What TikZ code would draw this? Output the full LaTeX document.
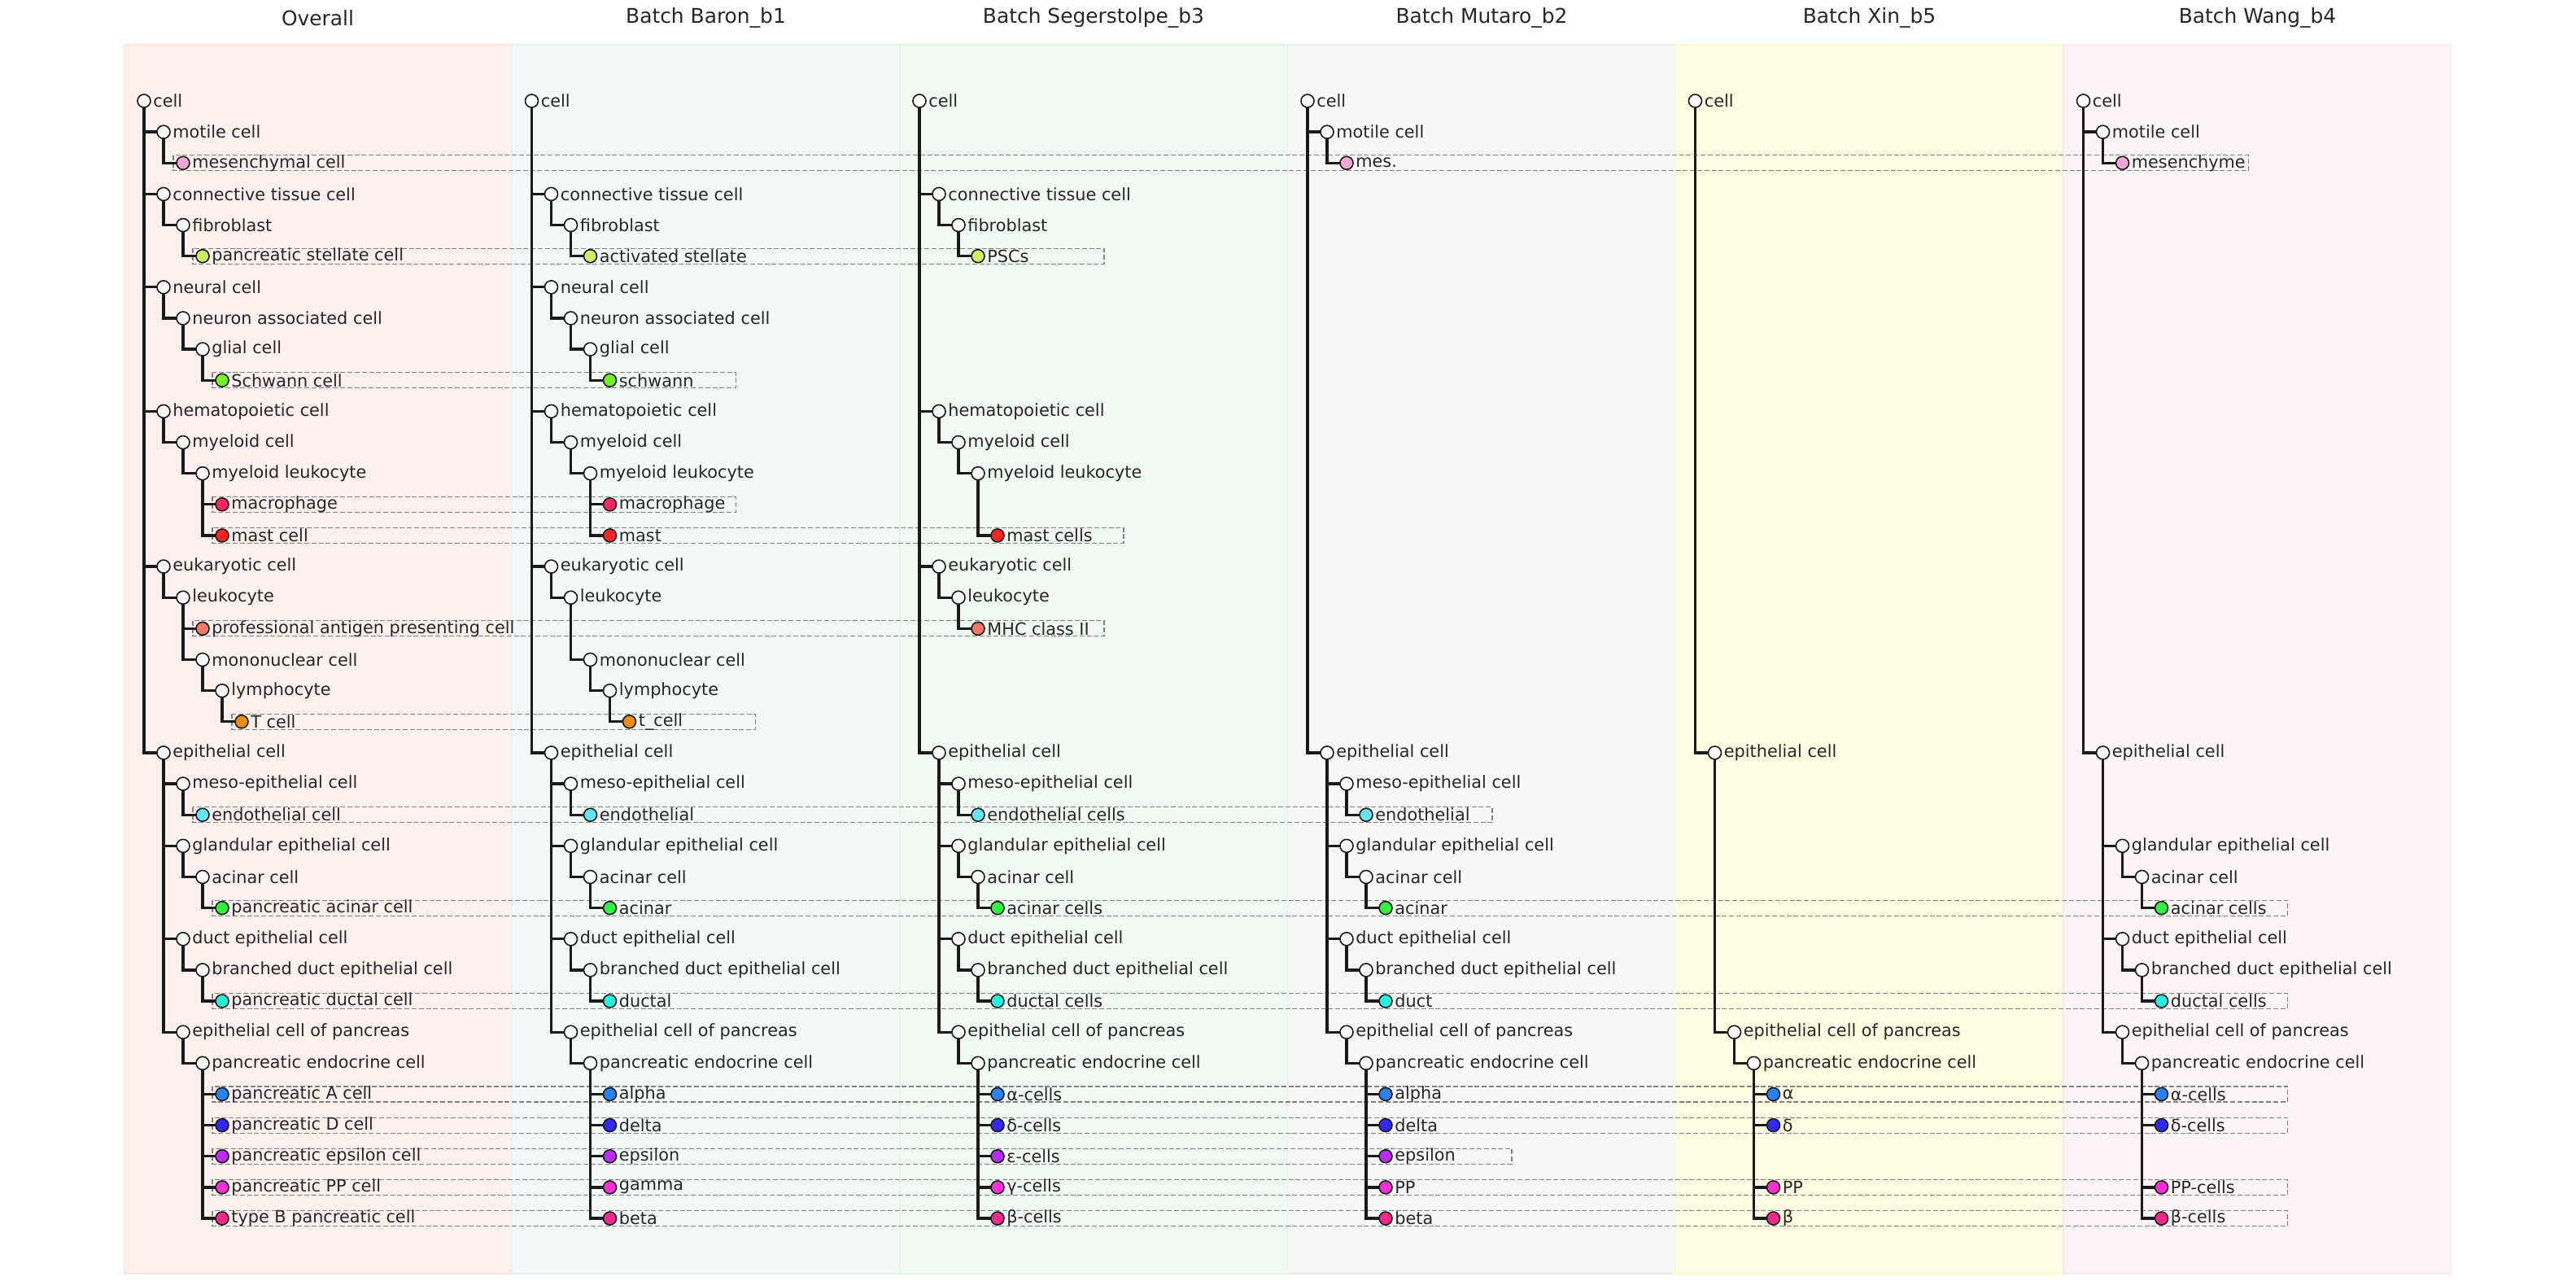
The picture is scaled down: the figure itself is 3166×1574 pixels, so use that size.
\documentclass[tikz,border=0pt]{standalone}
\usepackage{fontspec}
\setmainfont{DejaVu Sans}
\usetikzlibrary{calc}
\pgfdeclarelayer{panels}
\pgfdeclarelayer{boxes}
\pgfdeclarelayer{edges}
\pgfsetlayers{panels,boxes,edges,main}
\definecolor{txtc}{RGB}{38,38,38}
\definecolor{linec}{RGB}{26,26,26}
\definecolor{pOvF}{RGB}{254,240,237}\definecolor{pOvD}{RGB}{251,226,221}
\definecolor{pBaF}{RGB}{244,249,249}\definecolor{pBaD}{RGB}{231,241,241}
\definecolor{pSeF}{RGB}{240,250,241}\definecolor{pSeD}{RGB}{225,245,227}
\definecolor{pMuF}{RGB}{248,248,248}\definecolor{pMuD}{RGB}{236,236,236}
\definecolor{pXiF}{RGB}{254,254,228}\definecolor{pXiD}{RGB}{252,250,208}
\definecolor{pWaF}{RGB}{254,245,246}\definecolor{pWaD}{RGB}{252,233,236}
\definecolor{cPink}{RGB}{242,168,214}
\definecolor{cStel}{RGB}{205,238,100}
\definecolor{cSchw}{RGB}{118,240,40}
\definecolor{cMac}{RGB}{252,40,100}
\definecolor{cMast}{RGB}{252,36,36}
\definecolor{cAPC}{RGB}{236,122,102}
\definecolor{cT}{RGB}{242,140,0}
\definecolor{cEndo}{RGB}{100,230,242}
\definecolor{cAcin}{RGB}{50,240,62}
\definecolor{cDuct}{RGB}{36,240,222}
\definecolor{cA}{RGB}{40,130,242}
\definecolor{cD}{RGB}{50,40,242}
\definecolor{cE}{RGB}{186,44,242}
\definecolor{cPP}{RGB}{250,48,212}
\definecolor{cB}{RGB}{246,40,140}
\begin{document}
\begin{tikzpicture}[x=0.5pt,y=-0.5pt,
  cn/.style={circle, draw=linec, line width=0.8pt, minimum size=8pt, inner sep=0pt},
  lbl/.style={anchor=west, inner sep=0pt, text=txtc, font=\fontsize{10.4}{12}\selectfont},
  edge/.style={draw=linec, line width=1.65pt},
  dbox/.style={draw=black!50, line width=0.55pt, dash pattern=on 3pt off 1.4pt},
  ttl/.style={inner sep=0pt, text=txtc, font=\fontsize{12.45}{15}\selectfont},
  panel/.style={line width=0.8pt}]
\useasboundingbox (0,0) rectangle (3166,1574);
\begin{pgfonlayer}{panels}
\fill[white] (0,0) rectangle (3166,1574);
\draw[panel, fill=pOvF, draw=pOvD] (152.5,55) rectangle (629,1565);
\draw[panel, fill=pBaF, draw=pBaD] (629,55) rectangle (1106,1565);
\draw[panel, fill=pSeF, draw=pSeD] (1106,55) rectangle (1582.5,1565);
\draw[panel, fill=pMuF, draw=pMuD] (1582.5,55) rectangle (2059,1565);
\draw[panel, fill=pXiF, draw=pXiD] (2059,55) rectangle (2536,1565);
\draw[panel, fill=pWaF, draw=pWaD] (2536,55) rectangle (3012.5,1565);
\end{pgfonlayer}
\node[ttl] (t0) at (390.5,22) {Overall};
\node[ttl] (t1) at (867.5,22) {Batch Baron\_b1};
\node[ttl] (t2) at (1344,22) {Batch Segerstolpe\_b3};
\node[ttl] (t3) at (1821,22) {Batch Mutaro\_b2};
\node[ttl] (t4) at (2297.5,22) {Batch Xin\_b5};
\node[ttl] (t5) at (2774.5,22) {Batch Wang\_b4};
% ---------- Overall
\def\rx{177}
\foreach \nm/\lv/\rw/\col/\txt in {
o0/0/0/white/cell,
o1/1/1/white/motile cell,
o2/2/2/cPink/mesenchymal cell,
o3/1/3/white/connective tissue cell,
o4/2/4/white/fibroblast,
o5/3/5/cStel/pancreatic stellate cell,
o6/1/6/white/neural cell,
o7/2/7/white/neuron associated cell,
o8/3/8/white/glial cell,
o9/4/9/cSchw/Schwann cell,
o10/1/10/white/hematopoietic cell,
o11/2/11/white/myeloid cell,
o12/3/12/white/myeloid leukocyte,
o13/4/13/cMac/macrophage,
o14/4/14/cMast/mast cell,
o15/1/15/white/eukaryotic cell,
o16/2/16/white/leukocyte,
o17/3/17/cAPC/professional antigen presenting cell,
o18/3/18/white/mononuclear cell,
o19/4/19/white/lymphocyte,
o20/5/20/cT/T cell,
o21/1/21/white/epithelial cell,
o22/2/22/white/meso-epithelial cell,
o23/3/23/cEndo/endothelial cell,
o24/2/24/white/glandular epithelial cell,
o25/3/25/white/acinar cell,
o26/4/26/cAcin/pancreatic acinar cell,
o27/2/27/white/duct epithelial cell,
o28/3/28/white/branched duct epithelial cell,
o29/4/29/cDuct/pancreatic ductal cell,
o30/2/30/white/epithelial cell of pancreas,
o31/3/31/white/pancreatic endocrine cell,
o32/4/32/cA/pancreatic A cell,
o33/4/33/cD/pancreatic D cell,
o34/4/34/cE/pancreatic epsilon cell,
o35/4/35/cPP/pancreatic PP cell,
o36/4/36/cB/type B pancreatic cell}{
\node[cn, fill=\col] (\nm) at ({\rx+24*\lv},{124+38.14*\rw}) {};
\node[lbl] (\nm-t) at ([xshift=5.5pt]\nm.center) {\txt};
}
% ---------- Baron
\def\rx{653.5}
\foreach \nm/\lv/\rw/\col/\txt in {
b0/0/0/white/cell,
b3/1/3/white/connective tissue cell,
b4/2/4/white/fibroblast,
b5/3/5/cStel/activated stellate,
b6/1/6/white/neural cell,
b7/2/7/white/neuron associated cell,
b8/3/8/white/glial cell,
b9/4/9/cSchw/schwann,
b10/1/10/white/hematopoietic cell,
b11/2/11/white/myeloid cell,
b12/3/12/white/myeloid leukocyte,
b13/4/13/cMac/macrophage,
b14/4/14/cMast/mast,
b15/1/15/white/eukaryotic cell,
b16/2/16/white/leukocyte,
b18/3/18/white/mononuclear cell,
b19/4/19/white/lymphocyte,
b20/5/20/cT/t\_cell,
b21/1/21/white/epithelial cell,
b22/2/22/white/meso-epithelial cell,
b23/3/23/cEndo/endothelial,
b24/2/24/white/glandular epithelial cell,
b25/3/25/white/acinar cell,
b26/4/26/cAcin/acinar,
b27/2/27/white/duct epithelial cell,
b28/3/28/white/branched duct epithelial cell,
b29/4/29/cDuct/ductal,
b30/2/30/white/epithelial cell of pancreas,
b31/3/31/white/pancreatic endocrine cell,
b32/4/32/cA/alpha,
b33/4/33/cD/delta,
b34/4/34/cE/epsilon,
b35/4/35/cPP/gamma,
b36/4/36/cB/beta}{
\node[cn, fill=\col] (\nm) at ({\rx+24*\lv},{124+38.14*\rw}) {};
\node[lbl] (\nm-t) at ([xshift=5.5pt]\nm.center) {\txt};
}
% ---------- Segerstolpe
\def\rx{1130}
\foreach \nm/\lv/\rw/\col/\txt in {
s0/0/0/white/cell,
s3/1/3/white/connective tissue cell,
s4/2/4/white/fibroblast,
s5/3/5/cStel/PSCs,
s10/1/10/white/hematopoietic cell,
s11/2/11/white/myeloid cell,
s12/3/12/white/myeloid leukocyte,
s14/4/14/cMast/mast cells,
s15/1/15/white/eukaryotic cell,
s16/2/16/white/leukocyte,
s17/3/17/cAPC/MHC class II,
s21/1/21/white/epithelial cell,
s22/2/22/white/meso-epithelial cell,
s23/3/23/cEndo/endothelial cells,
s24/2/24/white/glandular epithelial cell,
s25/3/25/white/acinar cell,
s26/4/26/cAcin/acinar cells,
s27/2/27/white/duct epithelial cell,
s28/3/28/white/branched duct epithelial cell,
s29/4/29/cDuct/ductal cells,
s30/2/30/white/epithelial cell of pancreas,
s31/3/31/white/pancreatic endocrine cell,
s32/4/32/cA/α-cells,
s33/4/33/cD/δ-cells,
s34/4/34/cE/ε-cells,
s35/4/35/cPP/γ-cells,
s36/4/36/cB/β-cells}{
\node[cn, fill=\col] (\nm) at ({\rx+24*\lv},{124+38.14*\rw}) {};
\node[lbl] (\nm-t) at ([xshift=5.5pt]\nm.center) {\txt};
}
% ---------- Mutaro
\def\rx{1607}
\foreach \nm/\lv/\rw/\col/\txt in {
m0/0/0/white/cell,
m1/1/1/white/motile cell,
m2/2/2/cPink/mes.,
m21/1/21/white/epithelial cell,
m22/2/22/white/meso-epithelial cell,
m23/3/23/cEndo/endothelial,
m24/2/24/white/glandular epithelial cell,
m25/3/25/white/acinar cell,
m26/4/26/cAcin/acinar,
m27/2/27/white/duct epithelial cell,
m28/3/28/white/branched duct epithelial cell,
m29/4/29/cDuct/duct,
m30/2/30/white/epithelial cell of pancreas,
m31/3/31/white/pancreatic endocrine cell,
m32/4/32/cA/alpha,
m33/4/33/cD/delta,
m34/4/34/cE/epsilon,
m35/4/35/cPP/PP,
m36/4/36/cB/beta}{
\node[cn, fill=\col] (\nm) at ({\rx+24*\lv},{124+38.14*\rw}) {};
\node[lbl] (\nm-t) at ([xshift=5.5pt]\nm.center) {\txt};
}
% ---------- Xin
\def\rx{2083.5}
\foreach \nm/\lv/\rw/\col/\txt in {
x0/0/0/white/cell,
x21/1/21/white/epithelial cell,
x30/2/30/white/epithelial cell of pancreas,
x31/3/31/white/pancreatic endocrine cell,
x32/4/32/cA/α,
x33/4/33/cD/δ,
x35/4/35/cPP/PP,
x36/4/36/cB/β}{
\node[cn, fill=\col] (\nm) at ({\rx+24*\lv},{124+38.14*\rw}) {};
\node[lbl] (\nm-t) at ([xshift=5.5pt]\nm.center) {\txt};
}
% ---------- Wang
\def\rx{2560.5}
\foreach \nm/\lv/\rw/\col/\txt in {
w0/0/0/white/cell,
w1/1/1/white/motile cell,
w2/2/2/cPink/mesenchyme,
w21/1/21/white/epithelial cell,
w24/2/24/white/glandular epithelial cell,
w25/3/25/white/acinar cell,
w26/4/26/cAcin/acinar cells,
w27/2/27/white/duct epithelial cell,
w28/3/28/white/branched duct epithelial cell,
w29/4/29/cDuct/ductal cells,
w30/2/30/white/epithelial cell of pancreas,
w31/3/31/white/pancreatic endocrine cell,
w32/4/32/cA/α-cells,
w33/4/33/cD/δ-cells,
w35/4/35/cPP/PP-cells,
w36/4/36/cB/β-cells}{
\node[cn, fill=\col] (\nm) at ({\rx+24*\lv},{124+38.14*\rw}) {};
\node[lbl] (\nm-t) at ([xshift=5.5pt]\nm.center) {\txt};
}
% ---------- edges
\begin{pgfonlayer}{edges}
\foreach \pa/\ch in {
o0/o1,o0/o3,o0/o6,o0/o10,o0/o15,o0/o21,o1/o2,o3/o4,o4/o5,o6/o7,o7/o8,o8/o9,
o10/o11,o11/o12,o12/o13,o12/o14,o15/o16,o16/o17,o16/o18,o18/o19,o19/o20,
o21/o22,o21/o24,o21/o27,o21/o30,o22/o23,o24/o25,o25/o26,o27/o28,o28/o29,
o30/o31,o31/o32,o31/o33,o31/o34,o31/o35,o31/o36,
b0/b3,b0/b6,b0/b10,b0/b15,b0/b21,b3/b4,b4/b5,b6/b7,b7/b8,b8/b9,
b10/b11,b11/b12,b12/b13,b12/b14,b15/b16,b16/b18,b18/b19,b19/b20,
b21/b22,b21/b24,b21/b27,b21/b30,b22/b23,b24/b25,b25/b26,b27/b28,b28/b29,
b30/b31,b31/b32,b31/b33,b31/b34,b31/b35,b31/b36,
s0/s3,s0/s10,s0/s15,s0/s21,s3/s4,s4/s5,s10/s11,s11/s12,s12/s14,s15/s16,s16/s17,
s21/s22,s21/s24,s21/s27,s21/s30,s22/s23,s24/s25,s25/s26,s27/s28,s28/s29,
s30/s31,s31/s32,s31/s33,s31/s34,s31/s35,s31/s36,
m0/m1,m0/m21,m1/m2,
m21/m22,m21/m24,m21/m27,m21/m30,m22/m23,m24/m25,m25/m26,m27/m28,m28/m29,
m30/m31,m31/m32,m31/m33,m31/m34,m31/m35,m31/m36,
x0/x21,x21/x30,x30/x31,x31/x32,x31/x33,x31/x35,x31/x36,
w0/w1,w0/w21,w1/w2,w21/w24,w21/w27,w21/w30,w24/w25,w25/w26,w27/w28,w28/w29,
w30/w31,w31/w32,w31/w33,w31/w35,w31/w36}{
\draw[edge] (\pa.center) |- (\ch.center);
}
\end{pgfonlayer}
% ---------- dashed match boxes
\begin{pgfonlayer}{boxes}
\foreach \a/\b in {o2/w2,o5/s5,o9/b9,o13/b13,o14/s14,o17/s17,o20/b20,o23/m23,
o26/w26,o29/w29,o32/w32,o33/w33,o34/m34,o35/w35,o36/w36}{
\draw[dbox] ($(\a.center)+(-12,-9.5)$) rectangle ($(\b.center)+(155,9.5)$);
}
\end{pgfonlayer}
\end{tikzpicture}
\end{document}
